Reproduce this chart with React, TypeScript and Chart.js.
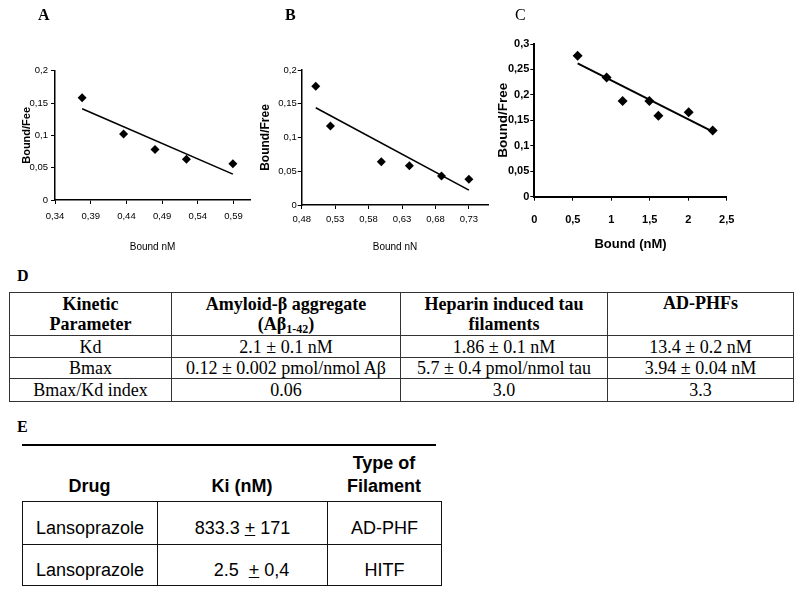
import React, { useEffect, useRef } from "react";
import { Chart, registerables } from "chart.js";

Chart.register(...registerables);

// ---------- data ----------
const aBound = [0.378, 0.436, 0.48, 0.524, 0.589];
const aRatio = [0.158, 0.102, 0.078, 0.063, 0.056];
const aFitX = [0.378, 0.589];
const aFitY = [0.141, 0.04];
const aXTicks = [0.34, 0.39, 0.44, 0.49, 0.54, 0.59];
const aXLabels = ["0,34", "0,39", "0,44", "0,49", "0,54", "0,59"];

const bBound = [0.501, 0.523, 0.599, 0.641, 0.689, 0.73];
const bRatio = [0.176, 0.117, 0.064, 0.058, 0.043, 0.038];
const bFitX = [0.501, 0.73];
const bFitY = [0.144, 0.022];
const bXTicks = [0.48, 0.53, 0.58, 0.63, 0.68, 0.73];
const bXLabels = ["0,48", "0,53", "0,58", "0,63", "0,68", "0,73"];

const abYTicks = [0, 0.05, 0.1, 0.15, 0.2];
const abYLabels = ["0", "0,05", "0,1", "0,15", "0,2"];

const cBound = [0.563, 0.94, 1.148, 1.495, 1.612, 2.006, 2.318];
const cRatio = [0.277, 0.234, 0.188, 0.188, 0.159, 0.166, 0.13];
const cFitX = [0.563, 2.318];
const cFitY = [0.262, 0.128];
const cXTicks = [0, 0.5, 1, 1.5, 2, 2.5];
const cXLabels = ["0", "0,5", "1", "1,5", "2", "2,5"];
const cYTicks = [0, 0.05, 0.1, 0.15, 0.2, 0.25, 0.3];
const cYLabels = ["0", "0,05", "0,1", "0,15", "0,2", "0,25", "0,3"];

const kineticHeaders = ["Kinetic", "Parameter"];
const abHeader = ["Amyloid-β aggregate", "(Aβ", "1-42", ")"];
const tauHeader = ["Heparin induced tau", "filaments"];
const phfHeader = "AD-PHFs";
const kineticRows = [
  ["Kd", "2.1 ± 0.1 nM", "1.86 ± 0.1 nM", "13.4 ± 0.2 nM"],
  ["Bmax", "0.12 ± 0.002 pmol/nmol Aβ", "5.7 ± 0.4 pmol/nmol tau", "3.94 ± 0.04 nM"],
  ["Bmax/Kd index", "0.06", "3.0", "3.3"],
];

const drugNames = ["Lansoprazole", "Lansoprazole"];
const kiValues = ["833.3", "2.5"];
const kiErrors = ["171", "0,4"];
const filamentTypes = ["AD-PHF", "HITF"];

// ---------- fonts ----------
const NARROW = "'Liberation Sans Narrow', 'Arial Narrow', 'Liberation Sans', Arial, sans-serif";
const ARIAL = "'Liberation Sans', Arial, sans-serif";
const SERIF = "'Liberation Serif', 'Times New Roman', serif";

type Panel = {
  x: number[]; y: number[]; fitX: number[]; fitY: number[];
  xMin: number; xMax: number; yMax: number;
  xTicks: number[]; xLabels: string[]; yTicks: number[]; yLabels: string[];
  xTitle: string; yTitle: string;
  pad: { left: number; right: number; top: number; bottom: number };
  yW: number; xH: number;
  tickFont: any; xTitleFont: any; yTitleFont: any;
  xTickPad: number; yTickPad: number; xTitlePad: number; yTitlePad: number;
  r: number; lw: number; axisW: number;
};

function makeConfig(p: Panel): any {
  return {
    type: "scatter",
    data: {
      datasets: [
        {
          data: p.x.map((x, i) => ({ x, y: p.y[i] })),
          pointStyle: "rectRot",
          pointRadius: p.r,
          backgroundColor: "#000",
          borderColor: "#000",
          borderWidth: 0,
          showLine: false,
        },
        {
          data: p.fitX.map((x, i) => ({ x, y: p.fitY[i] })),
          showLine: true,
          pointRadius: 0,
          borderColor: "#000",
          borderWidth: p.lw,
          fill: false,
        },
      ],
    },
    options: {
      responsive: false,
      animation: false,
      events: [],
      layout: { padding: p.pad },
      plugins: { legend: { display: false }, tooltip: { enabled: false } },
      scales: {
        x: {
          type: "linear",
          min: p.xMin,
          max: p.xMax,
          afterBuildTicks: (ax: any) => {
            ax.ticks = p.xTicks.map((v) => ({ value: v }));
          },
          afterFit: (s: any) => {
            s.height = p.xH;
          },
          ticks: {
            callback: (_v: any, i: number) => p.xLabels[i],
            autoSkip: false,
            maxRotation: 0,
            minRotation: 0,
            padding: p.xTickPad,
            color: "#000",
            font: p.tickFont,
          },
          grid: { drawOnChartArea: false, drawTicks: true, tickLength: 4, color: "#000", lineWidth: 1 },
          border: { display: true, color: "#000", width: p.axisW },
          title: {
            display: true,
            text: p.xTitle,
            color: "#000",
            font: p.xTitleFont,
            padding: { top: 0, bottom: p.xTitlePad },
          },
        },
        y: {
          type: "linear",
          min: 0,
          max: p.yMax,
          afterBuildTicks: (ax: any) => {
            ax.ticks = p.yTicks.map((v) => ({ value: v }));
          },
          afterFit: (s: any) => {
            s.width = p.yW;
          },
          ticks: {
            callback: (_v: any, i: number) => p.yLabels[i],
            autoSkip: false,
            padding: p.yTickPad,
            color: "#000",
            font: p.tickFont,
          },
          grid: { drawOnChartArea: false, drawTicks: true, tickLength: 4, color: "#000", lineWidth: 1 },
          border: { display: true, color: "#000", width: p.axisW },
          title: {
            display: true,
            text: p.yTitle,
            color: "#000",
            font: p.yTitleFont,
            padding: { top: p.yTitlePad, bottom: 0 },
          },
        },
      },
    },
  };
}

const panelA: Panel = {
  x: aBound, y: aRatio, fitX: aFitX, fitY: aFitY,
  xMin: 0.34, xMax: 0.613, yMax: 0.2,
  xTicks: aXTicks, xLabels: aXLabels, yTicks: abYTicks, yLabels: abYLabels,
  xTitle: "Bound nM", yTitle: "Bound/Fee",
  pad: { left: 0, right: 12, top: 70.7, bottom: 0 },
  yW: 55, xH: 60,
  tickFont: { family: NARROW, size: 9.5 },
  xTitleFont: { family: NARROW, size: 10 },
  yTitleFont: { family: ARIAL, size: 11, weight: "bold" },
  xTickPad: 7, yTickPad: 3, xTitlePad: 7, yTitlePad: 20,
  r: 4.5, lw: 1.6, axisW: 1.5,
};

const panelB: Panel = {
  x: bBound, y: bRatio, fitX: bFitX, fitY: bFitY,
  xMin: 0.48, xMax: 0.759, yMax: 0.2,
  xTicks: bXTicks, xLabels: bXLabels, yTicks: abYTicks, yLabels: abYLabels,
  xTitle: "Bound nN", yTitle: "Bound/Free",
  pad: { left: 0, right: 11.7, top: 70, bottom: 0 },
  yW: 46.7, xH: 55,
  tickFont: { family: NARROW, size: 9.5 },
  xTitleFont: { family: NARROW, size: 10 },
  yTitleFont: { family: ARIAL, size: 12, weight: "bold" },
  xTickPad: 5, yTickPad: 1, xTitlePad: 6.7, yTitlePad: 3,
  r: 4.5, lw: 1.6, axisW: 1.5,
};

const panelC: Panel = {
  x: cBound, y: cRatio, fitX: cFitX, fitY: cFitY,
  xMin: 0, xMax: 2.5, yMax: 0.3,
  xTicks: cXTicks, xLabels: cXLabels, yTicks: cYTicks, yLabels: cYLabels,
  xTitle: "Bound (nM)", yTitle: "Bound/Free",
  pad: { left: 0, right: 68.3, top: 44, bottom: 0 },
  yW: 49.3, xH: 63.3,
  tickFont: { family: NARROW, size: 11, weight: "bold" },
  xTitleFont: { family: NARROW, size: 13, weight: "bold" },
  yTitleFont: { family: ARIAL, size: 13.5, weight: "bold" },
  xTickPad: 13, yTickPad: 1, xTitlePad: 7.6, yTitlePad: 10,
  r: 5, lw: 2, axisW: 2,
};

function ChartPanel({ spec, left, width }: { spec: Panel; left: number; width: number }) {
  const ref = useRef<HTMLCanvasElement | null>(null);
  useEffect(() => {
    if (!ref.current) return;
    const chart = new Chart(ref.current, makeConfig(spec));
    return () => chart.destroy();
  }, [spec]);
  return (
    <canvas
      ref={ref}
      width={width}
      height={260}
      style={{ position: "absolute", left, top: 0, width, height: 260, display: "block" }}
    />
  );
}

const cellD: React.CSSProperties = {
  border: "1px solid #333",
  textAlign: "center",
  padding: 0,
  fontFamily: SERIF,
  fontSize: 18,
  color: "#000",
};

const cellE: React.CSSProperties = {
  border: "1.5px solid #111",
  textAlign: "center",
  padding: "10px 0 0 0",
  fontFamily: ARIAL,
  fontSize: 18,
  color: "#000",
  verticalAlign: "middle",
};

export default function App() {
  const headStyle: React.CSSProperties = {
    ...cellD,
    fontWeight: "bold",
    verticalAlign: "top",
    lineHeight: "20px",
  };
  const rowHeights = [22, 21, 23];
  return (
    <div style={{ position: "absolute", left: 0, top: 0, width: 800, height: 594, background: "#fff", overflow: "hidden" }}>
      <ChartPanel spec={panelA} left={0} width={262} />
      <ChartPanel spec={panelB} left={255} width={245} />
      <ChartPanel spec={panelC} left={485} width={310} />

      <div style={{ position: "absolute", left: 38, top: 6, fontFamily: SERIF, fontWeight: "bold", fontSize: 16 }}>A</div>
      <div style={{ position: "absolute", left: 285, top: 6, fontFamily: SERIF, fontWeight: "bold", fontSize: 16 }}>B</div>
      <div style={{ position: "absolute", left: 515, top: 6, fontFamily: SERIF, fontSize: 16 }}>C</div>

      <div style={{ position: "absolute", left: 17, top: 267, fontFamily: SERIF, fontWeight: "bold", fontSize: 16 }}>D</div>
      <table
        style={{
          position: "absolute",
          left: 9,
          top: 292,
          width: 784,
          borderCollapse: "collapse",
          tableLayout: "fixed",
        }}
      >
        <colgroup>
          <col style={{ width: 162 }} />
          <col style={{ width: 229 }} />
          <col style={{ width: 207 }} />
          <col style={{ width: 186 }} />
        </colgroup>
        <tbody>
          <tr style={{ height: 43 }}>
            <td style={{ ...headStyle, verticalAlign: "middle" }}>
              {kineticHeaders[0]}
              <br />
              {kineticHeaders[1]}
            </td>
            <td style={{ ...headStyle, verticalAlign: "middle" }}>
              {abHeader[0]}
              <br />
              {abHeader[1]}
              <sub style={{ fontSize: 12, verticalAlign: -3, lineHeight: 0 }}>{abHeader[2]}</sub>
              {abHeader[3]}
            </td>
            <td style={{ ...headStyle, verticalAlign: "middle" }}>
              {tauHeader[0]}
              <br />
              {tauHeader[1]}
            </td>
            <td style={headStyle}>{phfHeader}</td>
          </tr>
          {kineticRows.map((row, ri) => (
            <tr key={ri} style={{ height: rowHeights[ri] }}>
              {row.map((c, ci) => (
                <td key={ci} style={{ ...cellD, lineHeight: "18px", verticalAlign: "middle" }}>
                  {c}
                </td>
              ))}
            </tr>
          ))}
        </tbody>
      </table>

      <div style={{ position: "absolute", left: 17, top: 418, fontFamily: SERIF, fontWeight: "bold", fontSize: 16 }}>E</div>
      <div style={{ position: "absolute", left: 22, top: 444, width: 414, height: 1.5, background: "#000" }} />
      <div
        style={{
          position: "absolute",
          left: 22,
          top: 450,
          width: 419,
          height: 48,
          display: "flex",
          alignItems: "flex-end",
          fontFamily: ARIAL,
          fontWeight: "bold",
          fontSize: 18,
          lineHeight: "23px",
          textAlign: "center",
          color: "#000",
        }}
      >
        <div style={{ width: 135 }}>Drug</div>
        <div style={{ width: 170 }}>Ki (nM)</div>
        <div style={{ width: 114 }}>
          Type of
          <br />
          Filament
        </div>
      </div>
      <table
        style={{
          position: "absolute",
          left: 22,
          top: 501,
          width: 419,
          borderCollapse: "collapse",
          tableLayout: "fixed",
        }}
      >
        <colgroup>
          <col style={{ width: 135 }} />
          <col style={{ width: 170 }} />
          <col style={{ width: 114 }} />
        </colgroup>
        <tbody>
          {drugNames.map((d, i) => (
            <tr key={i} style={{ height: i === 0 ? 43 : 41 }}>
              <td style={cellE}>{d}</td>
              <td style={{ ...cellE, paddingLeft: i === 0 ? 0 : 18 }}>
                {kiValues[i]}
                {i === 0 ? " " : "\u00a0\u00a0"}
                <u>+</u> {kiErrors[i]}
              </td>
              <td style={cellE}>{filamentTypes[i]}</td>
            </tr>
          ))}
        </tbody>
      </table>
    </div>
  );
}
